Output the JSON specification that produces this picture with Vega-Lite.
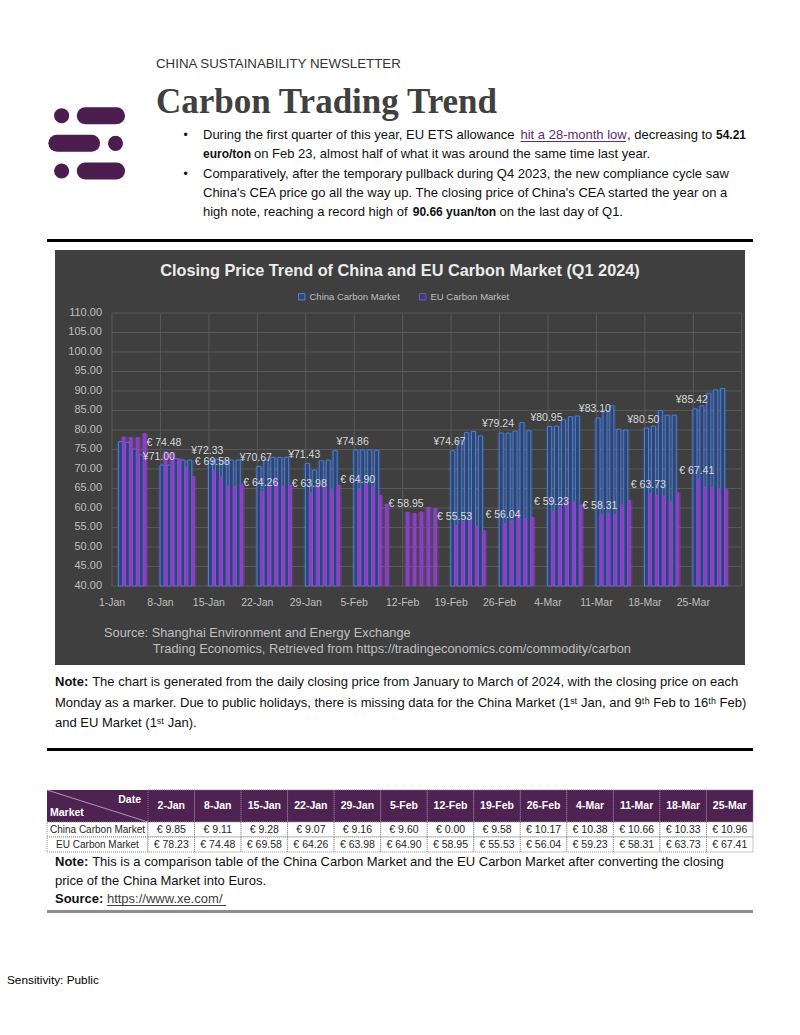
{
  "$schema": "https://vega.github.io/schema/vega-lite/v6.json",
  "background": "#ffffff",
  "padding": {"left": 7, "top": 0, "right": 0, "bottom": 0},
  "config": {"view": {"stroke": null}, "font": "Liberation Sans"},
  "datasets": {
    "prices": [
      {"date": "2024-01-02T12:00", "china": 77.0, "eu": 78.23},
      {"date": "2024-01-03T12:00", "china": 76.8, "eu": 78.1},
      {"date": "2024-01-04T12:00", "china": 75.1, "eu": 78.1},
      {"date": "2024-01-05T12:00", "china": 73.6, "eu": 79.1},
      {"date": "2024-01-08T12:00", "china": 71.0, "eu": 74.48},
      {"date": "2024-01-09T12:00", "china": 71.0, "eu": 74.3},
      {"date": "2024-01-10T12:00", "china": 72.7, "eu": 72.6},
      {"date": "2024-01-11T12:00", "china": 72.3, "eu": 70.5},
      {"date": "2024-01-12T12:00", "china": 72.3, "eu": 68.1},
      {"date": "2024-01-15T12:00", "china": 72.33, "eu": 69.58},
      {"date": "2024-01-16T12:00", "china": 72.5, "eu": 68.0},
      {"date": "2024-01-17T12:00", "china": 72.3, "eu": 65.8},
      {"date": "2024-01-18T12:00", "china": 72.3, "eu": 65.5},
      {"date": "2024-01-19T12:00", "china": 72.3, "eu": 66.2},
      {"date": "2024-01-22T12:00", "china": 70.67, "eu": 64.26},
      {"date": "2024-01-23T12:00", "china": 72.3, "eu": 65.5},
      {"date": "2024-01-24T12:00", "china": 73.0, "eu": 67.8},
      {"date": "2024-01-25T12:00", "china": 73.0, "eu": 65.7},
      {"date": "2024-01-26T12:00", "china": 73.0, "eu": 65.9},
      {"date": "2024-01-29T12:00", "china": 71.43, "eu": 63.98},
      {"date": "2024-01-30T12:00", "china": 69.7, "eu": 65.9},
      {"date": "2024-01-31T12:00", "china": 72.1, "eu": 65.9},
      {"date": "2024-02-01T12:00", "china": 72.3, "eu": 64.6},
      {"date": "2024-02-02T12:00", "china": 74.7, "eu": 65.9},
      {"date": "2024-02-05T12:00", "china": 74.86, "eu": 64.9},
      {"date": "2024-02-06T12:00", "china": 74.9, "eu": 66.0},
      {"date": "2024-02-07T12:00", "china": 74.9, "eu": 65.5},
      {"date": "2024-02-08T12:00", "china": 74.8, "eu": 63.3},
      {"date": "2024-02-09T12:00", "china": null, "eu": 61.0},
      {"date": "2024-02-12T12:00", "china": null, "eu": 58.95},
      {"date": "2024-02-13T12:00", "china": null, "eu": 58.6},
      {"date": "2024-02-14T12:00", "china": null, "eu": 59.0},
      {"date": "2024-02-15T12:00", "china": null, "eu": 60.2},
      {"date": "2024-02-16T12:00", "china": null, "eu": 59.9},
      {"date": "2024-02-19T12:00", "china": 74.67, "eu": 55.53},
      {"date": "2024-02-20T12:00", "china": 77.4, "eu": 56.5},
      {"date": "2024-02-21T12:00", "china": 79.3, "eu": 57.0},
      {"date": "2024-02-22T12:00", "china": 79.6, "eu": 55.2},
      {"date": "2024-02-23T12:00", "china": 78.5, "eu": 54.21},
      {"date": "2024-02-26T12:00", "china": 79.24, "eu": 56.04},
      {"date": "2024-02-27T12:00", "china": 79.2, "eu": 56.6},
      {"date": "2024-02-28T12:00", "china": 79.7, "eu": 58.6},
      {"date": "2024-02-29T12:00", "china": 81.9, "eu": 57.3},
      {"date": "2024-03-01T12:00", "china": 79.8, "eu": 57.6},
      {"date": "2024-03-04T12:00", "china": 80.95, "eu": 59.23},
      {"date": "2024-03-05T12:00", "china": 81.0, "eu": 60.3},
      {"date": "2024-03-06T12:00", "china": 82.6, "eu": 61.8},
      {"date": "2024-03-07T12:00", "china": 83.4, "eu": 61.6},
      {"date": "2024-03-08T12:00", "china": 83.6, "eu": 60.8},
      {"date": "2024-03-11T12:00", "china": 83.1, "eu": 58.31},
      {"date": "2024-03-12T12:00", "china": 85.1, "eu": 58.6},
      {"date": "2024-03-13T12:00", "china": 86.2, "eu": 58.3},
      {"date": "2024-03-14T12:00", "china": 80.2, "eu": 60.8},
      {"date": "2024-03-15T12:00", "china": 80.0, "eu": 62.0},
      {"date": "2024-03-18T12:00", "china": 80.5, "eu": 63.73},
      {"date": "2024-03-19T12:00", "china": 81.0, "eu": 63.3},
      {"date": "2024-03-20T12:00", "china": 85.0, "eu": 63.1},
      {"date": "2024-03-21T12:00", "china": 83.8, "eu": 61.6},
      {"date": "2024-03-22T12:00", "china": 83.8, "eu": 63.9},
      {"date": "2024-03-25T12:00", "china": 85.42, "eu": 67.41},
      {"date": "2024-03-26T12:00", "china": 86.2, "eu": 65.3},
      {"date": "2024-03-27T12:00", "china": 89.4, "eu": 65.3},
      {"date": "2024-03-28T12:00", "china": 90.3, "eu": 65.0},
      {"date": "2024-03-29T12:00", "china": 90.66, "eu": 64.8}
    ],
    "hgrid": [{"v": 40}, {"v": 45}, {"v": 50}, {"v": 55}, {"v": 60}, {"v": 65}, {"v": 70}, {"v": 75}, {"v": 80}, {"v": 85}, {"v": 90}, {"v": 95}, {"v": 100}, {"v": 105}, {"v": 110}],
    "weeks": [{"d": "2024-01-01T00:00"}, {"d": "2024-01-08T00:00"}, {"d": "2024-01-15T00:00"}, {"d": "2024-01-22T00:00"}, {"d": "2024-01-29T00:00"}, {"d": "2024-02-05T00:00"}, {"d": "2024-02-12T00:00"}, {"d": "2024-02-19T00:00"}, {"d": "2024-02-26T00:00"}, {"d": "2024-03-04T00:00"}, {"d": "2024-03-11T00:00"}, {"d": "2024-03-18T00:00"}, {"d": "2024-03-25T00:00"}, {"d": "2024-04-01T00:00"}],
    "logo": [
      {"row": 1, "kind": "dot", "a": 0.86, "b": 0.86},
      {"row": 1, "kind": "pill", "a": 2.25, "b": 4.09},
      {"row": 2, "kind": "pill", "a": 0.58, "b": 2.62},
      {"row": 2, "kind": "dot", "a": 4.03, "b": 4.03},
      {"row": 3, "kind": "dot", "a": 0.86, "b": 0.86},
      {"row": 3, "kind": "pill", "a": 2.25, "b": 4.09}
    ],
    "titles": [
      {"line": 1, "at": 0, "style": "kicker", "text": "CHINA SUSTAINABILITY NEWSLETTER"},
      {"line": 2, "at": 0, "style": "head", "text": "Carbon Trading Trend"}
    ],
    "bullets": [
      {"line": 1, "at": -3.4, "style": "bullet", "text": "•"},
      {"line": 1, "at": 0, "style": "n", "text": "During the first quarter of this year, EU ETS allowance"},
      {"line": 1, "at": 55.7, "style": "link", "text": "hit a 28-month low", "to": 74.2},
      {"line": 1, "at": 74.4, "style": "n", "text": ", decreasing to"},
      {"line": 1, "at": 90.0, "style": "b", "text": "54.21"},
      {"line": 2, "at": 0, "style": "b", "text": "euro/ton"},
      {"line": 2, "at": 8.95, "style": "n", "text": "on Feb 23, almost half of what it was around the same time last year."},
      {"line": 3, "at": -3.4, "style": "bullet", "text": "•"},
      {"line": 3, "at": 0, "style": "n", "text": "Comparatively, after the temporary pullback during Q4 2023, the new compliance cycle saw"},
      {"line": 4, "at": 0, "style": "n", "text": "China's CEA price go all the way up. The closing price of China's CEA started the year on a"},
      {"line": 5, "at": 0, "style": "n", "text": "high note, reaching a record high of"},
      {"line": 5, "at": 36.8, "style": "b", "text": "90.66 yuan/ton"},
      {"line": 5, "at": 52.0, "style": "n", "text": "on the last day of Q1."}
    ],
    "note1": [
      {"line": 1, "at": 0, "style": "b", "text": "Note:"},
      {"line": 1, "at": 6.3, "style": "n", "text": "The chart is generated from the daily closing price from January to March of 2024, with the closing price on each"},
      {"line": 2, "at": 0, "style": "n", "text": "Monday as a marker. Due to public holidays, there is missing data for the China Market (1ˢᵗ Jan, and 9ᵗʰ Feb to 16ᵗʰ Feb)"},
      {"line": 3, "at": 0, "style": "n", "text": "and EU Market (1ˢᵗ Jan)."}
    ],
    "note2": [
      {"line": 1, "at": 0, "style": "b", "text": "Note:"},
      {"line": 1, "at": 6.3, "style": "n", "text": "This is a comparison table of the China Carbon Market and the EU Carbon Market after converting the closing"},
      {"line": 2, "at": 0, "style": "n", "text": "price of the China Market into Euros."},
      {"line": 3, "at": 0, "style": "b", "text": "Source:"},
      {"line": 3, "at": 8.8, "style": "link", "text": "https://www.xe.com/", "to": 29.0}
    ],
    "tdates": [{"date": "2-Jan"}, {"date": "8-Jan"}, {"date": "15-Jan"}, {"date": "22-Jan"}, {"date": "29-Jan"}, {"date": "5-Feb"}, {"date": "12-Feb"}, {"date": "19-Feb"}, {"date": "26-Feb"}, {"date": "4-Mar"}, {"date": "11-Mar"}, {"date": "18-Mar"}, {"date": "25-Mar"}],
    "table": [
      {"date": "2-Jan", "market": "China Carbon Market", "val": 9.85}, {"date": "2-Jan", "market": "EU Carbon Market", "val": 78.23},
      {"date": "8-Jan", "market": "China Carbon Market", "val": 9.11}, {"date": "8-Jan", "market": "EU Carbon Market", "val": 74.48},
      {"date": "15-Jan", "market": "China Carbon Market", "val": 9.28}, {"date": "15-Jan", "market": "EU Carbon Market", "val": 69.58},
      {"date": "22-Jan", "market": "China Carbon Market", "val": 9.07}, {"date": "22-Jan", "market": "EU Carbon Market", "val": 64.26},
      {"date": "29-Jan", "market": "China Carbon Market", "val": 9.16}, {"date": "29-Jan", "market": "EU Carbon Market", "val": 63.98},
      {"date": "5-Feb", "market": "China Carbon Market", "val": 9.6}, {"date": "5-Feb", "market": "EU Carbon Market", "val": 64.9},
      {"date": "12-Feb", "market": "China Carbon Market", "val": 0.0}, {"date": "12-Feb", "market": "EU Carbon Market", "val": 58.95},
      {"date": "19-Feb", "market": "China Carbon Market", "val": 9.58}, {"date": "19-Feb", "market": "EU Carbon Market", "val": 55.53},
      {"date": "26-Feb", "market": "China Carbon Market", "val": 10.17}, {"date": "26-Feb", "market": "EU Carbon Market", "val": 56.04},
      {"date": "4-Mar", "market": "China Carbon Market", "val": 10.38}, {"date": "4-Mar", "market": "EU Carbon Market", "val": 59.23},
      {"date": "11-Mar", "market": "China Carbon Market", "val": 10.66}, {"date": "11-Mar", "market": "EU Carbon Market", "val": 58.31},
      {"date": "18-Mar", "market": "China Carbon Market", "val": 10.33}, {"date": "18-Mar", "market": "EU Carbon Market", "val": 63.73},
      {"date": "25-Mar", "market": "China Carbon Market", "val": 10.96}, {"date": "25-Mar", "market": "EU Carbon Market", "val": 67.41}
    ]
  },
  "spacing": 0,
  "bounds": "flush",
  "center": true,
  "vconcat": [
    {
      "width": 706, "height": 239,
      "resolve": {"scale": {"x": "independent", "y": "independent"}},
      "layer": [
        {
          "data": {"name": "logo"},
          "encoding": {
            "x": {"field": "a", "type": "quantitative", "scale": {"domain": [0, 6.353], "range": [0, 108]}, "axis": null},
            "y": {"field": "row", "type": "quantitative", "scale": {"domain": [1, 3], "range": [115.7, 171]}, "axis": null}
          },
          "layer": [
            {"transform": [{"filter": "datum.kind === 'pill'"}], "mark": {"type": "rule", "strokeWidth": 17, "strokeCap": "round", "color": "#4b1e4f"}, "encoding": {"x2": {"field": "b"}}},
            {"transform": [{"filter": "datum.kind === 'dot'"}], "mark": {"type": "point", "filled": true, "shape": "circle", "size": 227, "color": "#4b1e4f", "opacity": 1}}
          ]
        },
        {
          "data": {"name": "titles"},
          "encoding": {
            "x": {"field": "at", "type": "quantitative", "scale": {"domain": [0, 10], "range": [109, 168]}, "axis": null},
            "y": {"field": "line", "type": "quantitative", "scale": {"domain": [1, 2], "range": [67.5, 113]}, "axis": null},
            "text": {"field": "text"}
          },
          "layer": [
            {"transform": [{"filter": "datum.style === 'kicker'"}], "mark": {"type": "text", "align": "left", "baseline": "alphabetic", "fontSize": 13.3, "color": "#333333"}},
            {"transform": [{"filter": "datum.style === 'head'"}], "mark": {"type": "text", "align": "left", "baseline": "alphabetic", "fontSize": 35, "fontWeight": "bold", "color": "#404040", "font": "Liberation Serif"}}
          ]
        },
        {
          "data": {"name": "bullets"},
          "encoding": {
            "x": {"field": "at", "type": "quantitative", "scale": {"domain": [0, 100], "range": [156, 726]}, "axis": null},
            "y": {"field": "line", "type": "quantitative", "scale": {"domain": [1, 5], "range": [135, 212.2]}, "axis": null}
          },
          "layer": [
            {"transform": [{"filter": "datum.style === 'n'"}], "mark": {"type": "text", "align": "left", "baseline": "middle", "fontSize": 13, "color": "#111111"}, "encoding": {"text": {"field": "text"}}},
            {"transform": [{"filter": "datum.style === 'b'"}], "mark": {"type": "text", "align": "left", "baseline": "middle", "fontSize": 12, "fontWeight": "bold", "color": "#111111"}, "encoding": {"text": {"field": "text"}}},
            {"transform": [{"filter": "datum.style === 'link'"}], "mark": {"type": "text", "align": "left", "baseline": "middle", "fontSize": 13, "color": "#5c2d6e"}, "encoding": {"text": {"field": "text"}}},
            {"transform": [{"filter": "datum.style === 'link'"}], "mark": {"type": "rule", "color": "#5c2d6e", "strokeWidth": 1, "yOffset": 6.5}, "encoding": {"x2": {"field": "to"}}},
            {"transform": [{"filter": "datum.style === 'bullet'"}], "mark": {"type": "text", "align": "left", "baseline": "middle", "fontSize": 12, "color": "#111111"}, "encoding": {"text": {"field": "text"}}}
          ]
        }
      ]
    },
    {"width": 706, "height": 3, "view": {"fill": "#000000", "stroke": null}, "data": {"values": [{}]}, "mark": {"type": "point", "opacity": 0}},
    {"width": 706, "height": 8, "data": {"values": [{}]}, "mark": {"type": "point", "opacity": 0}},
    {
      "width": 690, "height": 368,
      "view": {"fill": "#3f3f3f", "stroke": null},
      "title": {"text": "Closing Price Trend of China and EU Carbon Market (Q1 2024)", "anchor": "middle", "frame": "group", "offset": -29, "fontSize": 16.3, "fontWeight": "bold", "color": "#ececec", "font": "Liberation Sans"},
      "layer": [
        {
          "data": {"name": "hgrid"},
          "mark": {"type": "rule", "color": "#5a5a5a", "strokeWidth": 1},
          "encoding": {
            "y": {"field": "v", "type": "quantitative", "scale": {"domain": [31.79, 126.15], "nice": false, "zero": false, "padding": 0}, "axis": null},
            "x": {"datum": {"year": 2024, "month": 1, "date": 1}, "type": "temporal", "scale": {"domain": [{"year": 2023, "month": 12, "date": 23, "hours": 18, "minutes": 19}, {"year": 2024, "month": 4, "date": 1, "hours": 11, "minutes": 17}], "nice": false, "padding": 0}, "axis": null},
            "x2": {"datum": {"year": 2024, "month": 4, "date": 1}}
          }
        },
        {
          "data": {"name": "weeks"},
          "mark": {"type": "rule", "color": "#5a5a5a", "strokeWidth": 1},
          "encoding": {
            "x": {"field": "d", "type": "temporal", "scale": {"nice": false, "padding": 0}, "axis": null},
            "y": {"datum": 40, "type": "quantitative", "axis": null},
            "y2": {"datum": 110}
          }
        },
        {
          "data": {"name": "hgrid"},
          "mark": {"type": "text", "align": "right", "baseline": "middle", "dx": -10, "fontSize": 11, "color": "#bfbfbf"},
          "encoding": {
            "x": {"datum": {"year": 2024, "month": 1, "date": 1}, "type": "temporal", "axis": null},
            "y": {"field": "v", "type": "quantitative", "axis": null},
            "text": {"field": "v", "type": "quantitative", "format": ".2f"}
          }
        },
        {
          "data": {"name": "weeks"},
          "transform": [{"filter": "month(toDate(datum.d)) < 3"}],
          "mark": {"type": "text", "align": "center", "baseline": "middle", "dy": 17, "fontSize": 10.5, "color": "#bfbfbf"},
          "encoding": {
            "x": {"field": "d", "type": "temporal", "axis": null},
            "y": {"datum": 40, "type": "quantitative", "axis": null},
            "text": {"field": "d", "type": "temporal", "format": "%-d-%b"}
          }
        },
        {
          "data": {"name": "prices"},
          "transform": [{"filter": "isValid(datum.china)"}],
          "mark": {"type": "bar", "width": 8, "xOffset": -1.8, "fill": "#4a7fe0", "opacity": 0.18},
          "encoding": {"x": {"field": "date", "type": "temporal", "scale": {"padding": 0}, "axis": null}, "y": {"field": "china", "type": "quantitative", "axis": null}, "y2": {"datum": 40}}
        },
        {
          "data": {"name": "prices"},
          "mark": {"type": "bar", "width": 7, "xOffset": 1.5, "fill": "#a64ee6", "opacity": 0.2},
          "encoding": {"x": {"field": "date", "type": "temporal", "scale": {"padding": 0}, "axis": null}, "y": {"field": "eu", "type": "quantitative", "axis": null}, "y2": {"datum": 40}}
        },
        {
          "data": {"name": "prices"},
          "transform": [{"filter": "isValid(datum.china)"}],
          "mark": {"type": "bar", "width": 4, "xOffset": -1.8, "fill": "#2d4573", "strokeWidth": 0.9},
          "encoding": {
            "x": {"field": "date", "type": "temporal", "scale": {"padding": 0}, "axis": null},
            "y": {"field": "china", "type": "quantitative", "axis": null},
            "y2": {"datum": 40},
            "stroke": {"datum": "China Carbon Market", "type": "nominal", "scale": {"domain": ["China Carbon Market", "EU Carbon Market"], "range": ["#4f84e6", "#9446cf"]},
              "legend": {"orient": "none", "legendX": 290, "legendY": 292, "direction": "horizontal", "title": null, "symbolType": "square", "symbolSize": 40, "symbolStrokeWidth": 1, "symbolFillColor": "#3f3f3f", "labelColor": "#bfbfbf", "labelFontSize": 9.5, "labelOffset": 3, "columnPadding": 17, "padding": 0}}
          }
        },
        {
          "data": {"name": "prices"},
          "mark": {"type": "bar", "width": 3, "xOffset": 1.5, "fill": "#8b3dc8", "strokeWidth": 0.6},
          "encoding": {
            "x": {"field": "date", "type": "temporal", "scale": {"padding": 0}, "axis": null},
            "y": {"field": "eu", "type": "quantitative", "axis": null},
            "y2": {"datum": 40},
            "stroke": {"datum": "EU Carbon Market", "type": "nominal", "scale": {"domain": ["China Carbon Market", "EU Carbon Market"], "range": ["#4f84e6", "#9446cf"]}, "legend": null}
          }
        },
        {
          "data": {"name": "prices"},
          "transform": [{"filter": "day(toDate(datum.date)) === 1 && isValid(datum.china)"}],
          "mark": {"type": "text", "text": {"expr": "'¥' + format(datum.china, '.2f')"}, "color": "#d9d9d9", "fontSize": 10.5, "baseline": "middle", "align": "center", "dy": -8.5, "dx": -5},
          "encoding": {"x": {"field": "date", "type": "temporal", "axis": null}, "y": {"field": "china", "type": "quantitative", "axis": null}}
        },
        {
          "data": {"name": "prices"},
          "transform": [{"filter": "day(toDate(datum.date)) === 1"}],
          "mark": {"type": "text", "text": {"expr": "'€ ' + format(datum.eu, '.2f')"}, "color": "#d9d9d9", "fontSize": 10.5, "baseline": "middle", "align": "center", "dy": -8.5, "dx": 0},
          "encoding": {"x": {"field": "date", "type": "temporal", "axis": null}, "y": {"field": "eu", "type": "quantitative", "axis": null}}
        }
      ]
    },
    {
      "width": 690, "height": 47,
      "view": {"fill": "#3f3f3f", "stroke": null},
      "data": {"values": [
        {"line": 1, "at": 0, "text": "Source: Shanghai Environment and Energy Exchange"},
        {"line": 2, "at": 8.4, "text": "Trading Economics, Retrieved from https://tradingeconomics.com/commodity/carbon"}
      ]},
      "mark": {"type": "text", "align": "left", "baseline": "middle", "color": "#bfbfbf", "fontSize": 12.8},
      "encoding": {
        "x": {"field": "at", "type": "quantitative", "scale": {"domain": [0, 10], "range": [49, 107]}, "axis": null},
        "y": {"field": "line", "type": "quantitative", "scale": {"domain": [1, 2], "range": [15, 31]}, "axis": null},
        "text": {"field": "text"}
      }
    },
    {
      "width": 706, "height": 83,
      "data": {"name": "note1"},
      "encoding": {
        "x": {"field": "at", "type": "quantitative", "scale": {"domain": [0, 10], "range": [8, 67]}, "axis": null},
        "y": {"field": "line", "type": "quantitative", "scale": {"domain": [1, 3], "range": [17, 58]}, "axis": null},
        "text": {"field": "text"}
      },
      "layer": [
        {"transform": [{"filter": "datum.style === 'n'"}], "mark": {"type": "text", "align": "left", "baseline": "middle", "fontSize": 13, "color": "#111111"}},
        {"transform": [{"filter": "datum.style === 'b'"}], "mark": {"type": "text", "align": "left", "baseline": "middle", "fontSize": 13, "fontWeight": "bold", "color": "#111111"}}
      ]
    },
    {"width": 706, "height": 3, "view": {"fill": "#000000", "stroke": null}, "data": {"values": [{}]}, "mark": {"type": "point", "opacity": 0}},
    {"width": 706, "height": 39, "data": {"values": [{}]}, "mark": {"type": "point", "opacity": 0}},
    {
      "width": 706, "height": 32,
      "resolve": {"scale": {"x": "independent", "y": "independent"}},
      "layer": [
        {
          "data": {"values": [{"k": 0}]},
          "layer": [
            {"mark": {"type": "rect", "fill": "#4e2352"},
              "encoding": {"x": {"datum": 0, "type": "quantitative", "scale": {"domain": [0, 1], "range": [0, 101]}, "axis": null}, "x2": {"datum": 1}, "y": {"datum": 0, "type": "quantitative", "scale": {"domain": [0, 1], "range": [32, 0]}, "axis": null}, "y2": {"datum": 1}}},
            {"mark": {"type": "rule", "color": "#c9b6cc", "strokeWidth": 0.8},
              "encoding": {"x": {"datum": 0, "type": "quantitative", "axis": null}, "x2": {"datum": 1}, "y": {"datum": 1, "type": "quantitative", "axis": null}, "y2": {"datum": 0}}},
            {"mark": {"type": "text", "text": "Date", "align": "right", "baseline": "middle", "dx": -7, "fontSize": 10.5, "fontWeight": "bold", "color": "#ffffff"},
              "encoding": {"x": {"datum": 1, "type": "quantitative", "axis": null}, "y": {"datum": 0.69, "type": "quantitative", "axis": null}}},
            {"mark": {"type": "text", "text": "Market", "align": "left", "baseline": "middle", "dx": 3, "fontSize": 10.5, "fontWeight": "bold", "color": "#ffffff"},
              "encoding": {"x": {"datum": 0, "type": "quantitative", "axis": null}, "y": {"datum": 0.28, "type": "quantitative", "axis": null}}}
          ]
        },
        {
          "data": {"name": "tdates"},
          "encoding": {"x": {"field": "date", "type": "nominal", "sort": null, "scale": {"type": "band", "paddingInner": 0, "paddingOuter": 0, "range": [101, 706]}, "axis": null}},
          "layer": [
            {"mark": {"type": "rect", "fill": "#4e2352", "stroke": "#8a6b8f", "strokeDash": [1, 1], "strokeWidth": 1},
              "encoding": {"y": {"datum": 0, "type": "quantitative", "scale": {"domain": [0, 1], "range": [32, 0]}, "axis": null}, "y2": {"datum": 1}}},
            {"mark": {"type": "text", "fontSize": 10.5, "fontWeight": "bold", "color": "#ffffff", "baseline": "middle"},
              "encoding": {"y": {"datum": 0.5, "type": "quantitative", "axis": null}, "text": {"field": "date"}}}
          ]
        }
      ]
    },
    {
      "width": 706, "height": 30,
      "resolve": {"scale": {"x": "independent"}},
      "encoding": {"y": {"field": "market", "type": "nominal", "sort": null, "scale": {"type": "band", "paddingInner": 0, "paddingOuter": 0, "domain": ["China Carbon Market", "EU Carbon Market"]}, "axis": null}},
      "layer": [
        {
          "data": {"values": [{"market": "China Carbon Market"}, {"market": "EU Carbon Market"}]},
          "layer": [
            {"mark": {"type": "rect", "fill": "#ffffff", "stroke": "#8c8c8c", "strokeDash": [1, 1]},
              "encoding": {"x": {"datum": 0, "type": "quantitative", "scale": {"domain": [0, 1], "range": [0, 101]}, "axis": null}, "x2": {"datum": 1}}},
            {"mark": {"type": "text", "fontSize": 10, "color": "#262626"},
              "encoding": {"x": {"datum": 0.5, "type": "quantitative", "axis": null}, "text": {"field": "market"}}}
          ]
        },
        {
          "data": {"name": "table"},
          "encoding": {"x": {"field": "date", "type": "nominal", "sort": null, "scale": {"type": "band", "paddingInner": 0, "paddingOuter": 0, "range": [101, 706]}, "axis": null}},
          "layer": [
            {"mark": {"type": "rect", "fill": "#ffffff", "stroke": "#8c8c8c", "strokeDash": [1, 1]}},
            {"mark": {"type": "text", "fontSize": 10.5, "color": "#262626", "text": {"expr": "'€ ' + format(datum.val, '.2f')"}}}
          ]
        }
      ]
    },
    {
      "width": 706, "height": 58,
      "data": {"name": "note2"},
      "encoding": {
        "x": {"field": "at", "type": "quantitative", "scale": {"domain": [0, 10], "range": [8, 67]}, "axis": null},
        "y": {"field": "line", "type": "quantitative", "scale": {"domain": [1, 3], "range": [10, 47]}, "axis": null}
      },
      "layer": [
        {"transform": [{"filter": "datum.style === 'n'"}], "mark": {"type": "text", "align": "left", "baseline": "middle", "fontSize": 13, "color": "#111111"}, "encoding": {"text": {"field": "text"}}},
        {"transform": [{"filter": "datum.style === 'b'"}], "mark": {"type": "text", "align": "left", "baseline": "middle", "fontSize": 13, "fontWeight": "bold", "color": "#111111"}, "encoding": {"text": {"field": "text"}}},
        {"transform": [{"filter": "datum.style === 'link'"}], "mark": {"type": "text", "align": "left", "baseline": "middle", "fontSize": 13, "color": "#404040"}, "encoding": {"text": {"field": "text"}}},
        {"transform": [{"filter": "datum.style === 'link'"}], "mark": {"type": "rule", "color": "#404040", "strokeWidth": 1, "yOffset": 6.5}, "encoding": {"x2": {"field": "to"}}}
      ]
    },
    {"width": 706, "height": 3, "view": {"fill": "#8c8c8c", "stroke": null}, "data": {"values": [{}]}, "mark": {"type": "point", "opacity": 0}},
    {
      "width": 786, "height": 82,
      "data": {"values": [{"line": 1, "at": 0, "text": "Sensitivity: Public"}]},
      "mark": {"type": "text", "align": "left", "baseline": "middle", "fontSize": 11.8, "color": "#000000"},
      "encoding": {
        "x": {"field": "at", "type": "quantitative", "scale": {"domain": [0, 10], "range": [0, 59]}, "axis": null},
        "y": {"field": "line", "type": "quantitative", "scale": {"domain": [1, 2], "range": [67, 87]}, "axis": null},
        "text": {"field": "text"}
      }
    }
  ]
}
